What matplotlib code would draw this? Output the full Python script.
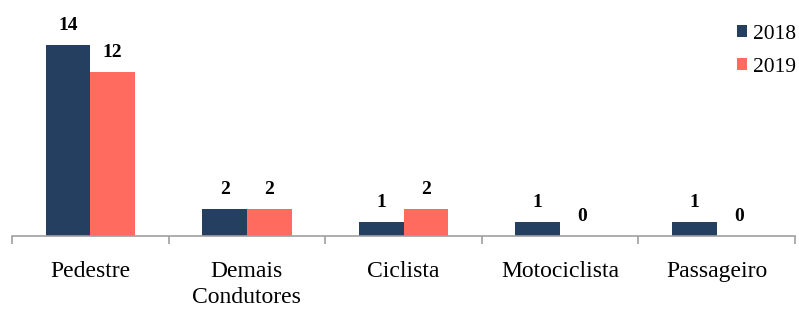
import matplotlib
matplotlib.use("Agg")
import matplotlib.pyplot as plt
import numpy as np

categories = ["Pedestre", "Demais\nCondutores", "Ciclista", "Motociclista", "Passageiro"]
series_names = ["2018", "2019"]
values_2018 = [14, 2, 1, 1, 1]
values_2019 = [12, 2, 2, 0, 0]
colors = ["#253F60", "#FF6B5E"]

plt.rcParams['font.family'] = ['Liberation Serif', 'DejaVu Serif']

fig = plt.figure(figsize=(7.99, 3.12), dpi=100)
ax = fig.add_axes([12/799, (312-236)/312, 783/799, 228/312])

x = np.arange(len(categories))
w = 0.285
for i, (vals, name, c) in enumerate(zip([values_2018, values_2019], series_names, colors)):
    pos = x + (i - 0.5) * w
    ax.bar(pos, vals, width=w, color=c, label=name, zorder=2)
    for p, v in zip(pos, vals):
        ax.annotate(str(v), (p, v), xytext=(0, 8), textcoords='offset points',
                    ha='center', va='bottom', fontsize=14, fontweight='bold')

ax.set_xlim(-0.5, len(categories) - 0.5)
ax.set_ylim(0, 228/13.64)
ax.set_yticks([])
for s in ['left', 'right', 'top']:
    ax.spines[s].set_visible(False)
ax.spines['bottom'].set_color('#A0A0A0')
ax.spines['bottom'].set_linewidth(1.2)

ax.set_xticks(np.arange(len(categories) + 1) - 0.5)
ax.set_xticklabels([])
ax.tick_params(axis='x', which='major', length=6, color='#A0A0A0', width=1.2, direction='out')
ax.set_xticks(x, minor=True)
ax.set_xticklabels(categories, minor=True, fontsize=17, linespacing=1.3)
ax.tick_params(axis='x', which='minor', length=0, pad=18)

leg = ax.legend(loc='upper right', bbox_to_anchor=(1.012, 0.965), frameon=False,
                fontsize=15.5, handlelength=0.5, handleheight=0.5, handletextpad=0.25,
                labelspacing=0.65, borderaxespad=0)

fig.savefig("out.png", dpi=100)
